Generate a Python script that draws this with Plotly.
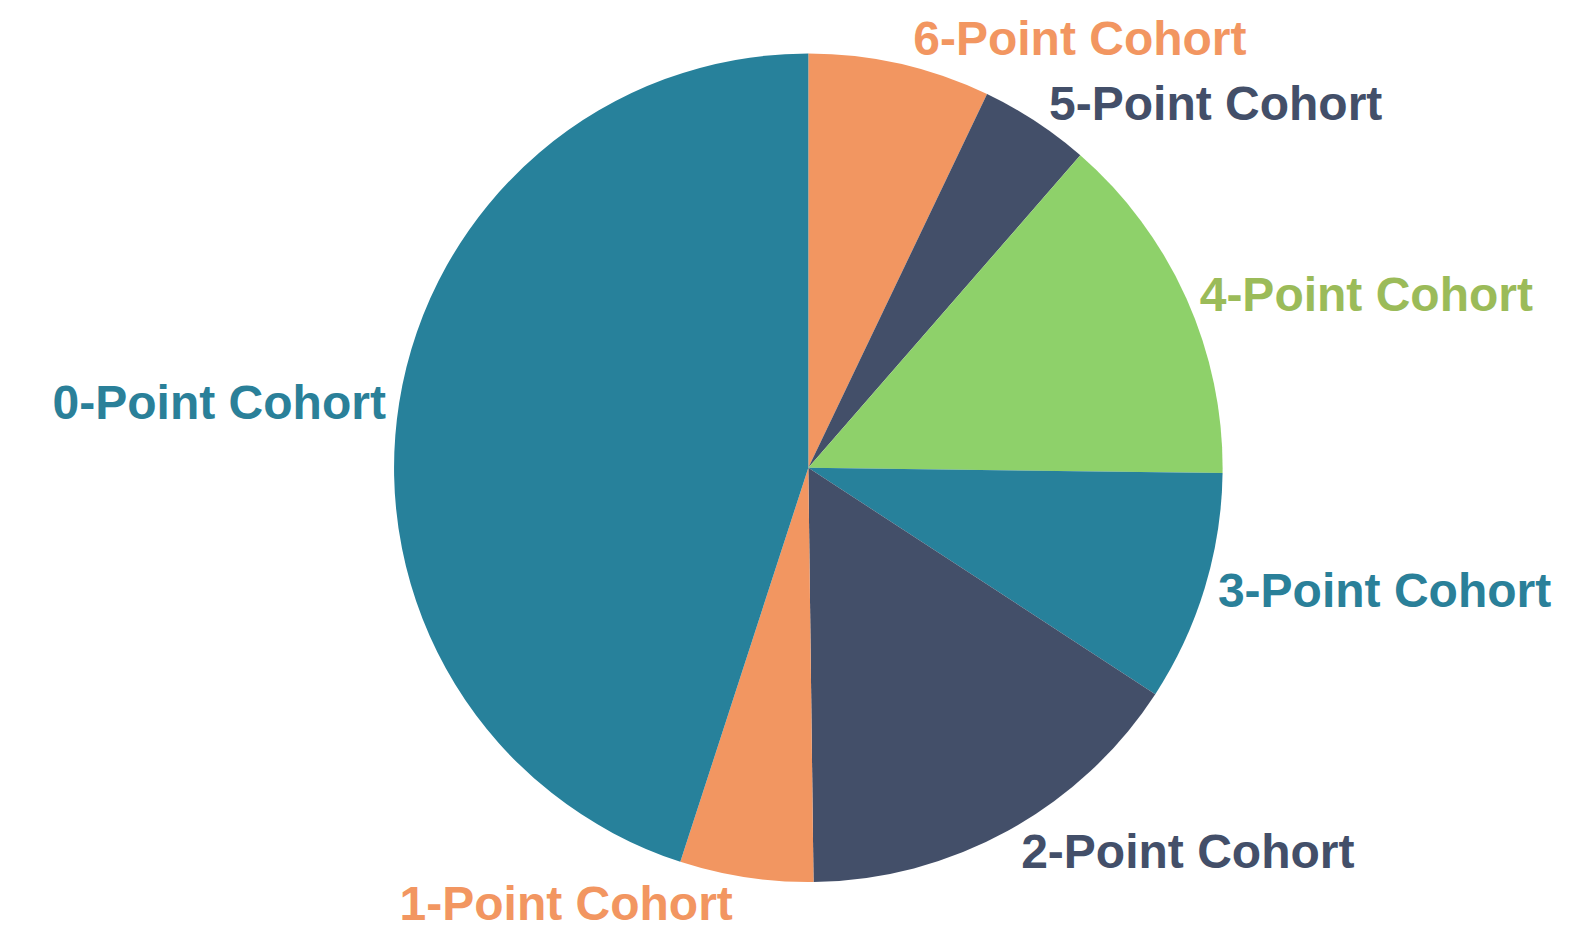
import plotly.graph_objects as go

categories = ["6-Point Cohort", "5-Point Cohort", "4-Point Cohort", "3-Point Cohort",
              "2-Point Cohort", "1-Point Cohort", "0-Point Cohort"]
values = [7.1, 4.3, 13.8, 9.0, 15.6, 5.2, 45.0]
slice_colors = ["#F29661", "#434F69", "#8ED16A", "#27819B", "#434F69", "#F29661", "#27819B"]
label_colors = ["#F29661", "#434F69", "#9BBB59", "#2A8099", "#434F69", "#F29661", "#2A8099"]

fig = go.Figure(go.Pie(
    labels=categories,
    values=values,
    sort=False,
    direction="clockwise",
    rotation=0,
    marker=dict(colors=slice_colors, line=dict(width=0)),
    textinfo="label",
    textposition="outside",
    outsidetextfont=dict(family="Liberation Sans, Arial, sans-serif", size=48, color=label_colors),
    texttemplate="<b>%{label}</b>",
    hoverinfo="label+percent",
    automargin=False,
    domain=dict(x=[0.2445, 0.7705], y=[0.078, 0.952]),
    showlegend=False,
))

fig.update_layout(
    width=1577, height=948,
    margin=dict(l=0, r=0, t=0, b=0),
    paper_bgcolor="white",
    plot_bgcolor="white",
)

fig.write_html("out.html")
